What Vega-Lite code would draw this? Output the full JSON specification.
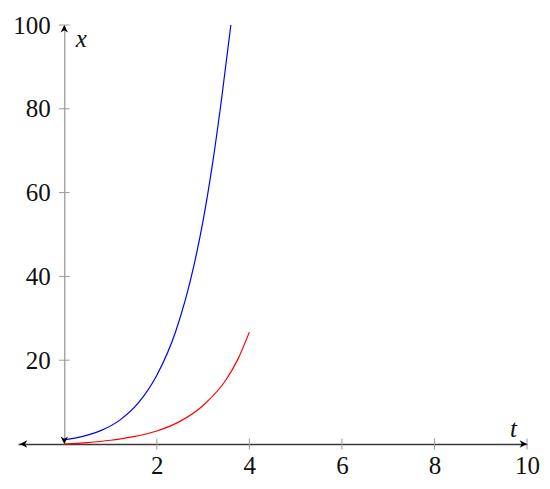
{
  "$schema": "https://vega.github.io/schema/vega-lite/v6.json",
  "width": 509,
  "height": 419,
  "autosize": {"type": "none"},
  "padding": {"left": 18, "top": 25, "right": 23, "bottom": 45},
  "background": "white",
  "config": {"view": {"stroke": null}},
  "layer": [
    {
      "data": {"values": [
        {"series": "a", "t": 0, "v": 1.0},
        {"series": "a", "t": 0.4, "v": 1.82},
        {"series": "a", "t": 0.8, "v": 3.25},
        {"series": "a", "t": 1.2, "v": 5.7},
        {"series": "a", "t": 1.6, "v": 9.8},
        {"series": "a", "t": 2.0, "v": 16.4},
        {"series": "a", "t": 2.4, "v": 26.6},
        {"series": "a", "t": 2.8, "v": 42.5},
        {"series": "a", "t": 3.0, "v": 53.3},
        {"series": "a", "t": 3.2, "v": 66.6},
        {"series": "a", "t": 3.4, "v": 82.4},
        {"series": "a", "t": 3.6, "v": 100},
        {"series": "b", "t": 0, "v": 0},
        {"series": "b", "t": 0.5, "v": 0.35},
        {"series": "b", "t": 1.0, "v": 0.9},
        {"series": "b", "t": 1.5, "v": 1.75},
        {"series": "b", "t": 2.0, "v": 3.1},
        {"series": "b", "t": 2.5, "v": 5.4},
        {"series": "b", "t": 3.0, "v": 9.2},
        {"series": "b", "t": 3.5, "v": 15.4},
        {"series": "b", "t": 3.75, "v": 20.2},
        {"series": "b", "t": 4.0, "v": 26.7}
      ]},
      "mark": {"type": "line", "strokeWidth": 1.2, "interpolate": "monotone"},
      "encoding": {
        "x": {
          "field": "t", "type": "quantitative",
          "scale": {"domain": [-1, 10], "nice": false, "zero": false},
          "axis": {
            "values": [2, 4, 6, 8, 10],
            "ticks": false, "grid": false,
            "domainColor": "#3a3a3a", "domainWidth": 1.6,
            "labelFont": "Liberation Serif", "labelFontSize": 25, "labelColor": "#111111",
            "labelPadding": 9, "labelFlush": false,
            "title": "t", "titleFont": "Liberation Serif", "titleFontStyle": "italic",
            "titleFontWeight": "normal", "titleFontSize": 25, "titleColor": "#111111",
            "titleX": 495, "titleY": -16, "titleAlign": "center", "titleBaseline": "middle"
          }
        },
        "y": {
          "field": "v", "type": "quantitative",
          "scale": {"domain": [0, 100], "nice": false, "zero": false},
          "axis": {
            "orient": "left", "offset": -46.3,
            "values": [20, 40, 60, 80, 100],
            "ticks": false, "grid": false,
            "domainColor": "#808080", "domainWidth": 1,
            "labelFont": "Liberation Serif", "labelFontSize": 25, "labelColor": "#111111",
            "labelPadding": 14, "labelFlush": false,
            "title": "x", "titleFont": "Liberation Serif", "titleFontStyle": "italic",
            "titleFontWeight": "normal", "titleFontSize": 25, "titleColor": "#111111",
            "titleAngle": 0, "titleX": 11, "titleY": 13, "titleAlign": "left", "titleBaseline": "middle"
          }
        },
        "color": {
          "field": "series", "type": "nominal",
          "scale": {"domain": ["a", "b"], "range": ["#0000ff", "#ff0000"]},
          "legend": null
        }
      }
    },
    {
      "data": {"values": [{"v": 20}, {"v": 40}, {"v": 60}, {"v": 80}, {"v": 100}]},
      "mark": {"type": "rule", "color": "#9a9a9a", "strokeWidth": 1},
      "encoding": {
        "y": {"field": "v", "type": "quantitative", "scale": {"domain": [0, 100], "nice": false, "zero": false}},
        "x": {"datum": -0.115, "type": "quantitative", "scale": {"domain": [-1, 10], "nice": false, "zero": false}},
        "x2": {"datum": 0.115}
      }
    },
    {
      "data": {"values": [{"t": 2}, {"t": 4}, {"t": 6}, {"t": 8}, {"t": 10}]},
      "mark": {"type": "rule", "color": "#9a9a9a", "strokeWidth": 1},
      "encoding": {
        "x": {"field": "t", "type": "quantitative", "scale": {"domain": [-1, 10], "nice": false, "zero": false}},
        "y": {"datum": -1.3, "type": "quantitative", "scale": {"domain": [0, 100], "nice": false, "zero": false}},
        "y2": {"datum": 1.3}
      }
    },
    {
      "data": {"values": [{"ax": "x+"}]},
      "mark": {"type": "point", "shape": "M0,0L-1,-0.5L-0.7,0L-1,0.5Z", "filled": true, "opacity": 1, "color": "#000000", "size": 220, "angle": 0},
      "encoding": {
        "x": {"datum": 10, "type": "quantitative"},
        "y": {"datum": 0, "type": "quantitative"}
      }
    },
    {
      "data": {"values": [{"ax": "x-"}]},
      "mark": {"type": "point", "shape": "M0,0L-1,-0.5L-0.7,0L-1,0.5Z", "filled": true, "opacity": 1, "color": "#000000", "size": 220, "angle": 180},
      "encoding": {
        "x": {"datum": -0.96, "type": "quantitative"},
        "y": {"datum": 0, "type": "quantitative"}
      }
    },
    {
      "data": {"values": [{"ax": "y+"}]},
      "mark": {"type": "point", "shape": "M0,0L-1,-0.5L-0.7,0L-1,0.5Z", "filled": true, "opacity": 1, "color": "#000000", "size": 220, "angle": 270},
      "encoding": {
        "x": {"datum": 0, "type": "quantitative"},
        "y": {"datum": 100, "type": "quantitative"}
      }
    },
    {
      "data": {"values": [{"ax": "y-"}]},
      "mark": {"type": "point", "shape": "M0,0L-1,-0.5L-0.7,0L-1,0.5Z", "filled": true, "opacity": 1, "color": "#000000", "size": 220, "angle": 90},
      "encoding": {
        "x": {"datum": 0, "type": "quantitative"},
        "y": {"datum": 0, "type": "quantitative"}
      }
    }
  ]
}
